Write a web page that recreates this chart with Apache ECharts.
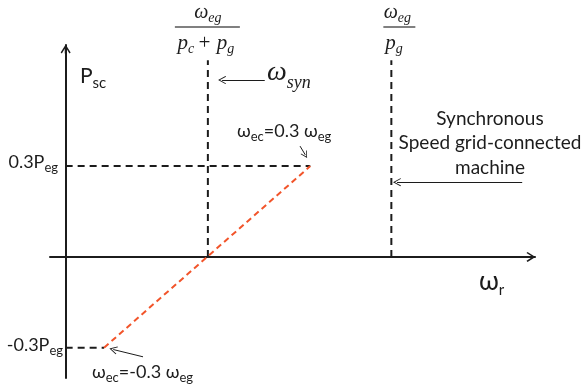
<!DOCTYPE html>
<html>
<head>
<meta charset="utf-8">
<script src="https://cdn.jsdelivr.net/npm/echarts@6/dist/echarts.min.js"></script>
<style>
  html, body { margin: 0; padding: 0; background: #fff; }
  #chart { width: 584px; height: 390px; }
</style>
</head>
<body>
<div id="chart"></div>
<script>
// Rotor speed in units of the synchronous speed, converter power in units of Peg
const synSpeed = 1.0;            // ωeg / (pc + pg)
const gridSpeed = 2.29;          // ωeg / pg
const ecSpeeds = [0.27, 1.72];   // rotor speed at ωec = -0.3 ωeg and ωec = 0.3 ωeg
const ecPowers = [-0.3, 0.3];    // converter power at those speeds
const guideTop = 0.65;           // height of the vertical speed markers
const xRange = [-0.11, 3.3];
const yRange = [-0.4, 0.7];

// annotation arrows: [tail, tip] in axis units
const synArrow = [[1.40, 0.584], [1.10, 0.584]];
const gridArrow = [[3.21, 0.247], [2.33, 0.247]];
const ecHighArrow = [[1.648, 0.366], [1.685, 0.337]];
const ecLowArrow = [[0.544, -0.330], [0.335, -0.306]];

const INK = '#1c1c1c';
const RED = '#f2542a';
const SANS = 'Lato, "Noto Sans", sans-serif';
const SERIF = '"Liberation Serif", "DejaVu Serif", serif';

// open arrow head with a short stem, pointing up
const AXIS_HEAD = 'path://M5,0 L10,8 L8.8,9 L5.9,4.3 L5.9,9 L4.1,9 L4.1,4.3 L1.2,9 L0,8 Z';
// thin open arrow head, pointing up
const THIN_HEAD = 'path://M5,0 L10,8 L9.2,8.7 L5,2 L0.8,8.7 L0,8 Z';

const chart = echarts.init(document.getElementById('chart'), null, { renderer: 'canvas' });

function axisCommon() {
  return {
    type: 'value',
    axisLine: {
      show: true, onZero: true,
      symbol: ['none', AXIS_HEAD], symbolSize: [10, 9], symbolOffset: [0, -4],
      lineStyle: { color: INK, width: 2 }
    },
    axisTick: { show: false },
    axisLabel: { show: false },
    splitLine: { show: false }
  };
}

function guide(data, color, dash) {
  return {
    type: 'line', data: data, symbol: 'none', silent: true,
    lineStyle: { color: color, width: 2, type: dash },
    z: 3
  };
}

function pointer(coords, size) {
  return {
    type: 'lines', coordinateSystem: 'cartesian2d', silent: true,
    symbol: ['none', THIN_HEAD], symbolSize: size,
    lineStyle: { color: INK, width: 1, opacity: 1 },
    data: [{ coords: coords }], z: 4
  };
}

chart.setOption({
  animation: false,
  backgroundColor: '#ffffff',
  grid: { left: 50, right: 49, top: 45, bottom: 12 },
  xAxis: Object.assign(axisCommon(), { min: xRange[0], max: xRange[1] }),
  yAxis: Object.assign(axisCommon(), { min: yRange[0], max: yRange[1] }),
  series: [
    guide([[synSpeed, 0], [synSpeed, guideTop]], INK, [7, 5]),
    guide([[gridSpeed, 0], [gridSpeed, guideTop]], INK, [7, 5]),
    guide([[0, ecPowers[1]], [ecSpeeds[1], ecPowers[1]]], INK, [7, 5]),
    guide([[0, ecPowers[0]], [ecSpeeds[0], ecPowers[0]]], INK, [7, 5]),
    Object.assign(guide([[ecSpeeds[0], ecPowers[0]], [ecSpeeds[1], ecPowers[1]]], RED, [6, 4]), { z: 5 }),
    pointer(synArrow, [10, 8]),
    pointer(gridArrow, [10, 8]),
    pointer(ecHighArrow, [8, 7]),
    pointer(ecLowArrow, [9, 8])
  ]
});

// ---- text labels ----
const measureCtx = document.createElement('canvas').getContext('2d');
function fontOf(p) { return (p.italic ? 'italic ' : '') + p.size + 'px ' + p.family; }
function widthOf(p) { measureCtx.font = fontOf(p); return measureCtx.measureText(p.t).width; }

// lays pieces out left to right on a shared baseline (dy shifts subscripts down)
function run(x, baseline, pieces, align) {
  const ws = pieces.map(widthOf);
  const total = ws.reduce((a, b, i) => a + b + (pieces[i].gap || 0), 0);
  let cx = align === 'center' ? x - total / 2 : align === 'right' ? x - total : x;
  return pieces.map((p, i) => {
    const el = {
      type: 'text', silent: true,
      x: cx, y: baseline + (p.dy || 0) - p.size * 0.33,
      style: { text: p.t, font: fontOf(p), fill: INK, align: 'left', verticalAlign: 'middle' }
    };
    cx += ws[i] + (p.gap || 0);
    return el;
  });
}

function sans(t, size, dy) { return { t: t, size: size, family: SANS, dy: dy || 0 }; }
function serif(t, size, dy, gap) { return { t: t, size: size, family: SERIF, italic: true, dy: dy || 0, gap: gap || 0 }; }

const synX = chart.convertToPixel({ gridIndex: 0 }, [synSpeed, 0])[0];
const gridX = chart.convertToPixel({ gridIndex: 0 }, [gridSpeed, 0])[0];
const BAR_Y = 27;

const graphics = [].concat(
  // fraction ωeg / (pc + pg)
  run(synX, 19, [serif('ω', 20), serif('eg', 14, 4)], 'center'),
  [{ type: 'line', silent: true, shape: { x1: synX - 33, y1: BAR_Y, x2: synX + 32, y2: BAR_Y },
     style: { stroke: '#808080', lineWidth: 2 } }],
  run(synX - 2, 50, [serif('p', 21), serif('c', 14, 4, 3), serif('+ ', 21), serif('p', 21), serif('g', 14, 4)], 'center'),
  // fraction ωeg / pg
  run(gridX + 6, 19, [serif('ω', 20), serif('eg', 14, 4)], 'center'),
  [{ type: 'line', silent: true, shape: { x1: gridX - 8, y1: BAR_Y, x2: gridX + 24, y2: BAR_Y },
     style: { stroke: '#808080', lineWidth: 2 } }],
  run(gridX - 6, 50, [serif('p', 21), serif('g', 14, 4)], 'left'),
  // ωsyn
  run(267, 82, [serif('ω', 28), serif('syn', 18, 7)], 'left'),
  // axis names
  run(80, 83, [sans('P', 21), sans('sc', 15, 5)], 'left'),
  run(479, 290, [sans('ω', 26), sans('r', 15, 5)], 'left'),
  // power levels
  run(58, 168, [sans('0.3P', 18), sans('eg', 13, 4)], 'right'),
  run(63, 351, [sans('-0.3P', 18), sans('eg', 13, 4)], 'right'),
  // converter speed notes
  run(237, 137, [sans('ω', 18), sans('ec', 13, 4), sans('=0.3 ω', 18), sans('eg', 13, 4)], 'left'),
  run(92, 378, [sans('ω', 18), sans('ec', 13, 4), sans('=-0.3 ω', 18), sans('eg', 13, 4)], 'left'),
  // grid-connected note
  run(490, 125, [sans('Synchronous', 19)], 'center'),
  run(490, 149, [sans('Speed grid-connected', 19)], 'center'),
  run(490, 174, [sans('machine', 19)], 'center')
);

chart.setOption({ graphic: graphics });
</script>
</body>
</html>
